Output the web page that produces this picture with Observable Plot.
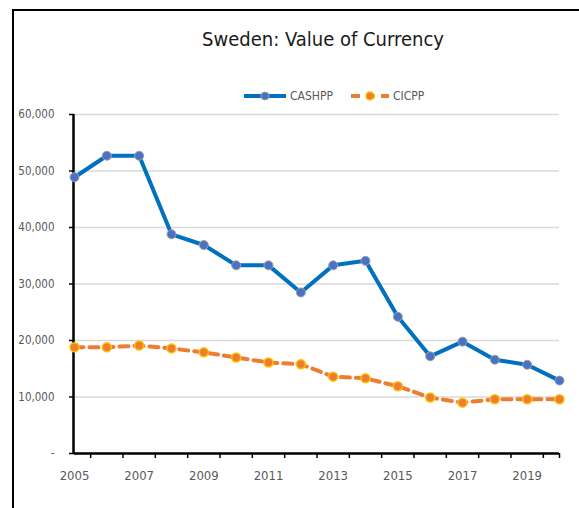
<!DOCTYPE html>
<html>
<head>
<meta charset="utf-8">
<script src="https://cdn.jsdelivr.net/npm/d3@7"></script>
<script src="https://cdn.jsdelivr.net/npm/@observablehq/plot@0.6"></script>
<style>
  body { margin: 0; background: #fff; }
  #wrap { position: relative; width: 579px; height: 508px; overflow: hidden;
          font-family: "DejaVu Sans Condensed", "DejaVu Sans", sans-serif; font-stretch: condensed; }
  #frame { position: absolute; left: 12px; top: 9px; width: 600px; height: 520px;
           border-left: 2px solid #000; border-top: 2px solid #000; }
  #title { position: absolute; left: 0; top: 27px; width: 646px; text-align: center;
           font-size: 20px; color: #1a1a1a; }
  #legend { position: absolute; left: 244px; top: 89px; display: flex; align-items: center;
            font-size: 12px; color: #595959; }
  #legend .item { display: flex; align-items: center; margin-right: 18px; }
  #legend svg { margin-right: 4px; }
  #chart { position: absolute; left: 0; top: 105px; }
  #chart svg text { font-stretch: condensed; }
</style>
</head>
<body>
<div id="wrap">
  <div id="frame"></div>
  <div id="title">Sweden: Value of Currency</div>
  <div id="legend"></div>
  <div id="chart"></div>
</div>
<script>
const years = [2005, 2006, 2007, 2008, 2009, 2010, 2011, 2012, 2013, 2014, 2015, 2016, 2017, 2018, 2019, 2020];
const cashpp = [48900, 52700, 52700, 38800, 36900, 33300, 33300, 28500, 33300, 34100, 24200, 17200, 19800, 16600, 15700, 12900];
const cicpp = [18800, 18800, 19100, 18600, 17900, 17000, 16100, 15800, 13600, 13300, 11900, 9900, 9000, 9600, 9600, 9600];
const seriesNames = ["CASHPP", "CICPP"];
const yTicks = [0, 10000, 20000, 30000, 40000, 50000, 60000];
const xLabelYears = [2005, 2007, 2009, 2011, 2013, 2015, 2017, 2019];

const blue = "#0070C0", blueDot = "#4a72c4", orange = "#ED7D31", yellow = "#FFC000";

const cashRows = years.map((yr, i) => ({year: yr, value: cashpp[i]}));
const cicRows = years.map((yr, i) => ({year: yr, value: cicpp[i]}));
const xTickMarks = years.slice(0, -1).map(y => y + 0.5).concat([years[years.length - 1]]);

// Legend
const legend = document.getElementById("legend");
legend.innerHTML = `
  <div class="item"><svg width="42" height="12"><line x1="0" y1="6" x2="42" y2="6" stroke="${blue}" stroke-width="4"/><circle cx="21" cy="6" r="4" fill="${blueDot}" stroke="#a0a0a0"/></svg>${seriesNames[0]}</div>
  <div class="item"><svg width="38" height="12"><line x1="0" y1="6" x2="38" y2="6" stroke="${orange}" stroke-width="4" stroke-dasharray="9,6"/><circle cx="19" cy="6" r="4" fill="${orange}" stroke="${yellow}" stroke-width="1.5"/></svg>${seriesNames[1]}</div>`;

const chart = Plot.plot({
  width: 579,
  height: 403,
  marginTop: 9,
  marginLeft: 74,
  marginRight: 20,
  marginBottom: 55,
  x: {domain: [2005, 2020], label: null},
  y: {domain: [0, 60000], label: null},
  style: {fontFamily: '"DejaVu Sans Condensed", "DejaVu Sans", sans-serif', background: "transparent", overflow: "visible"},
  marks: [
    Plot.gridY(yTicks, {stroke: "#d9d9d9", strokeOpacity: 1, strokeWidth: 1.5}),
    Plot.axisY(yTicks, {tickSize: 5, strokeWidth: 1.5, stroke: "#000", tickFormat: () => ""}),
    Plot.axisY(yTicks, {tickSize: 0, tickPadding: 20, fontSize: 11.5, fill: "#595959",
      tickFormat: d => d === 0 ? "-" : d3.format(",")(d)}),
    Plot.axisX(xTickMarks, {tickSize: 5, strokeWidth: 1.5, stroke: "#000", tickFormat: () => ""}),
    Plot.axisX(xLabelYears, {tickSize: 0, tickPadding: 17, fontSize: 13, fill: "#595959", tickFormat: d => String(d)}),
    Plot.ruleX([2005], {y1: 0, y2: 60000, stroke: "#000", strokeWidth: 2.5, dx: -1}),
    Plot.ruleY([0], {stroke: "#000", strokeWidth: 2.5}),
    Plot.line(cicRows, {x: "year", y: "value", stroke: orange, strokeWidth: 4, strokeDasharray: "9,6"}),
    Plot.line(cashRows, {x: "year", y: "value", stroke: blue, strokeWidth: 4}),
    Plot.dot(cicRows, {x: "year", y: "value", r: 4.5, fill: orange, stroke: yellow, strokeWidth: 1.5}),
    Plot.dot(cashRows, {x: "year", y: "value", r: 4.5, fill: blueDot, stroke: "#a0a0a0", strokeWidth: 1})
  ]
});
document.getElementById("chart").appendChild(chart);
</script>
</body>
</html>
